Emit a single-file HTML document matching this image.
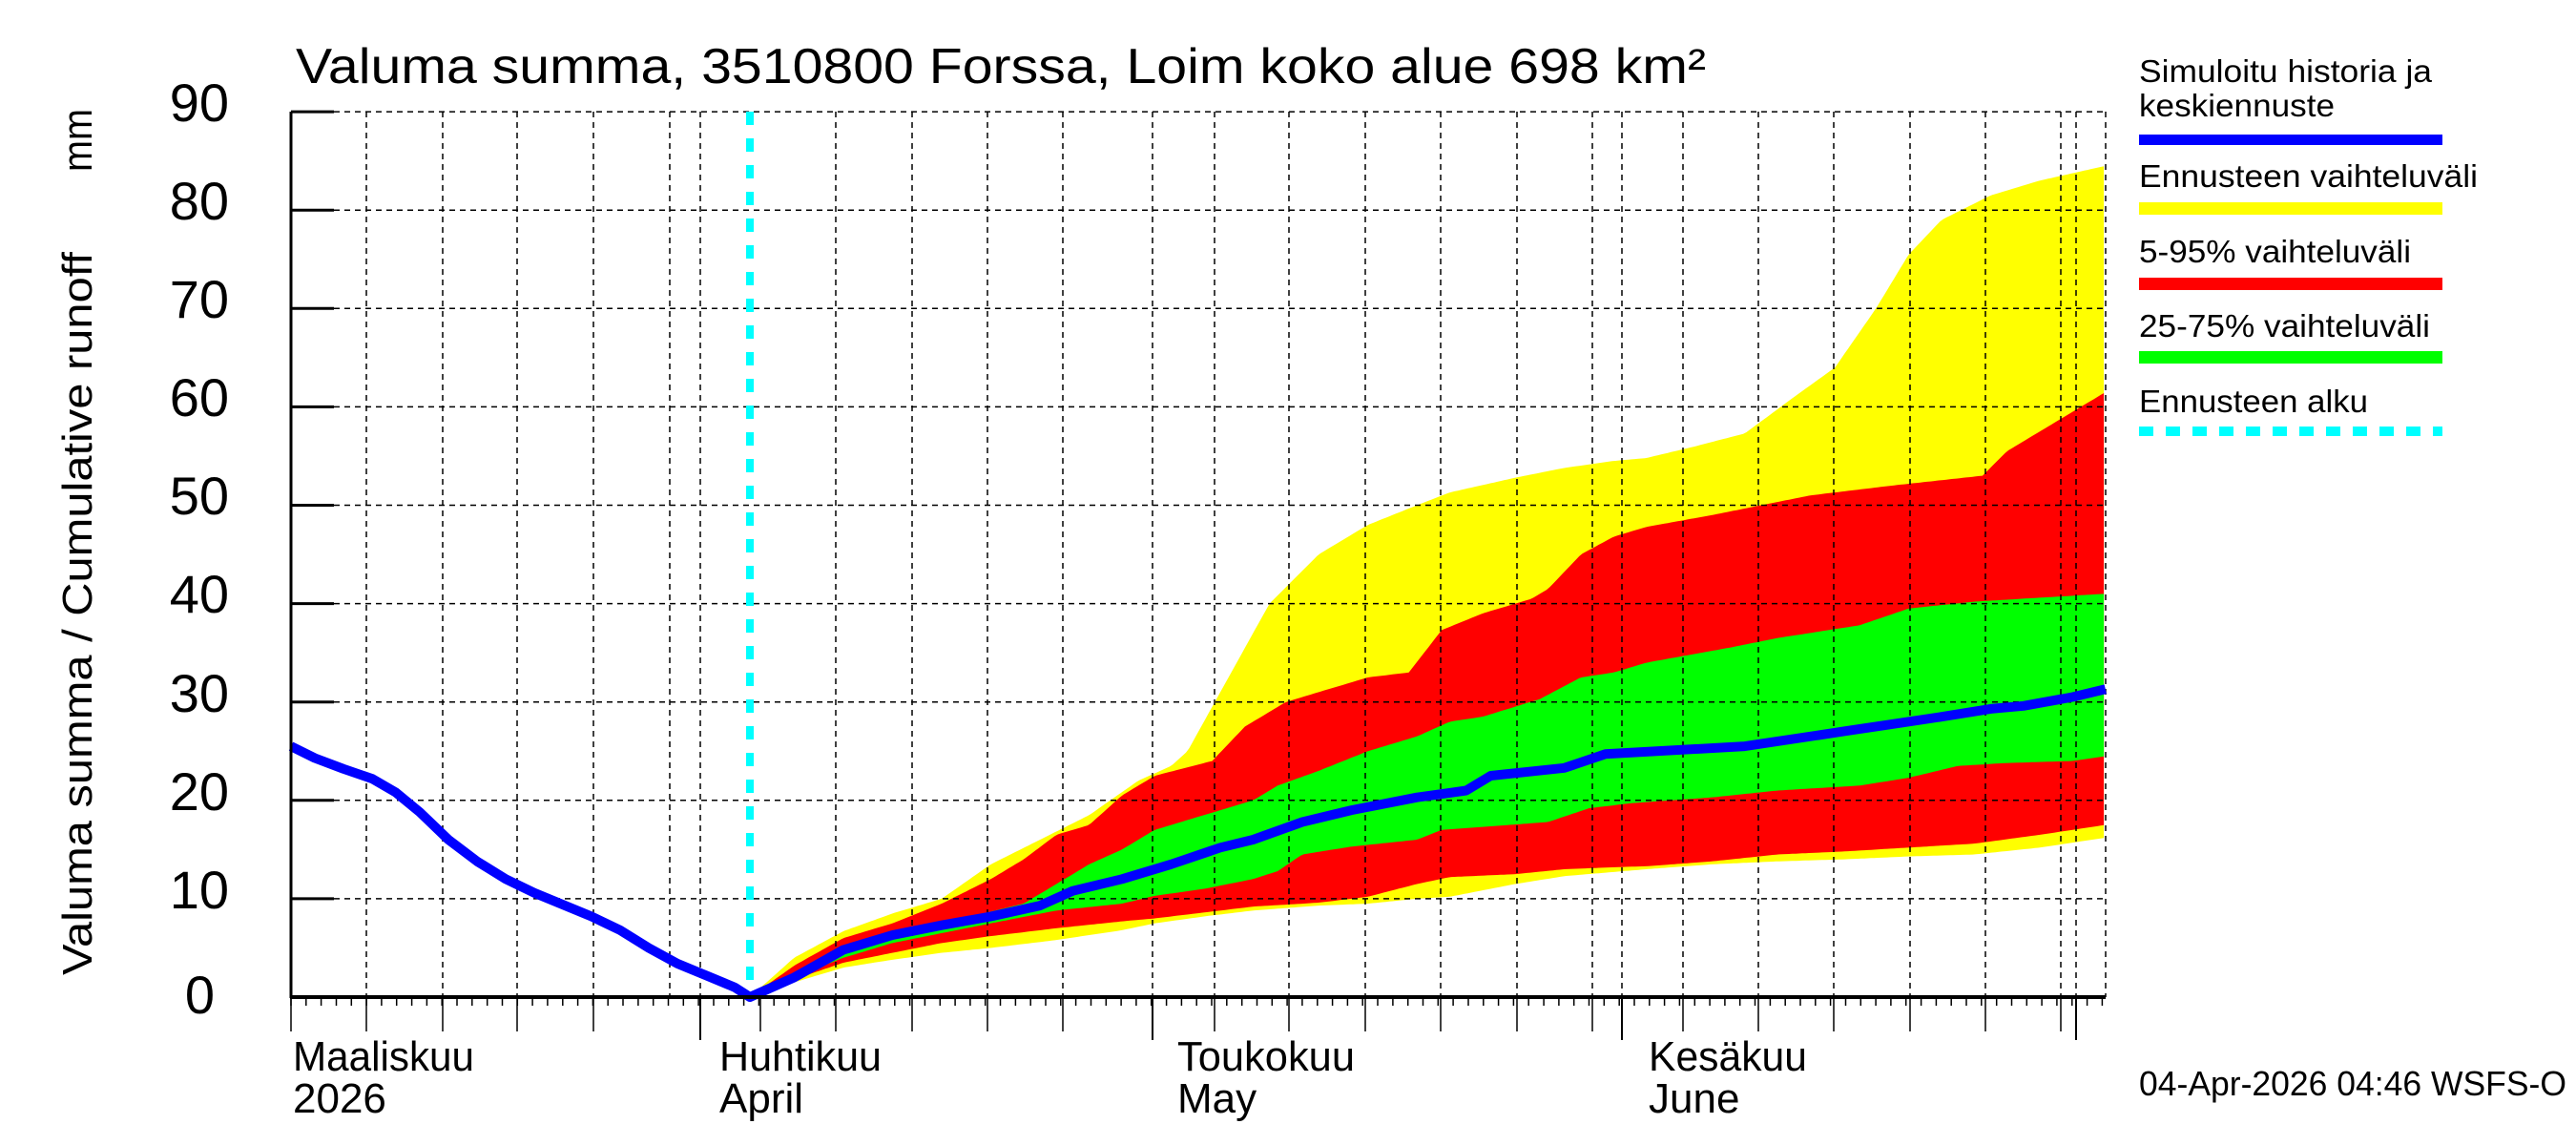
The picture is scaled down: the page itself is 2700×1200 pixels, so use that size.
<!DOCTYPE html>
<html><head><meta charset="utf-8"><style>
html,body{margin:0;padding:0;background:#fff;}
svg{display:block;}
text{font-family:"Liberation Sans",sans-serif;fill:#000;}
</style></head><body>
<svg id="s" width="2700" height="1200" xmlns="http://www.w3.org/2000/svg">
<g id="fills"></g>
<g id="grid" stroke="#000" stroke-width="1.5" stroke-dasharray="6,5" fill="none"></g>
<g id="lines"></g>
<g id="axes" stroke="#000" fill="none"></g>
<text x="310" y="87" font-size="52" textLength="1478" lengthAdjust="spacingAndGlyphs">Valuma summa, 3510800 Forssa, Loim koko alue 698 km²</text>
<text transform="translate(96,1022) rotate(-90)" font-size="44" textLength="758" lengthAdjust="spacingAndGlyphs">Valuma summa / Cumulative runoff</text>
<text transform="translate(96,180) rotate(-90)" font-size="44" textLength="66" lengthAdjust="spacingAndGlyphs">mm</text>
<g font-size="56" text-anchor="end">
<text x="240" y="127">90</text><text x="240" y="230">80</text><text x="240" y="333">70</text>
<text x="240" y="436">60</text><text x="240" y="539">50</text><text x="240" y="642">40</text>
<text x="240" y="746">30</text><text x="240" y="849">20</text><text x="240" y="952">10</text>
<text x="225" y="1062">0</text>
</g>
<g font-size="44">
<text x="307" y="1122" textLength="190" lengthAdjust="spacingAndGlyphs">Maaliskuu</text>
<text x="307" y="1166">2026</text>
<text x="754" y="1122" textLength="170" lengthAdjust="spacingAndGlyphs">Huhtikuu</text>
<text x="754" y="1166">April</text>
<text x="1234" y="1122" textLength="186" lengthAdjust="spacingAndGlyphs">Toukokuu</text>
<text x="1234" y="1166">May</text>
<text x="1728" y="1122" textLength="166" lengthAdjust="spacingAndGlyphs">Kesäkuu</text>
<text x="1728" y="1166">June</text>
</g>
<text x="2242" y="1148" font-size="36" textLength="448" lengthAdjust="spacingAndGlyphs">04-Apr-2026 04:46 WSFS-O</text>
<g font-size="33">
<text x="2242" y="86" textLength="307" lengthAdjust="spacingAndGlyphs">Simuloitu historia ja</text>
<text x="2242" y="122" textLength="205" lengthAdjust="spacingAndGlyphs">keskiennuste</text>
<text x="2242" y="196" textLength="355" lengthAdjust="spacingAndGlyphs">Ennusteen vaihteluväli</text>
<text x="2242" y="275" textLength="285" lengthAdjust="spacingAndGlyphs">5-95% vaihteluväli</text>
<text x="2242" y="353" textLength="305" lengthAdjust="spacingAndGlyphs">25-75% vaihteluväli</text>
<text x="2242" y="432" textLength="240" lengthAdjust="spacingAndGlyphs">Ennusteen alku</text>
</g>
<rect x="2242" y="141" width="318" height="11" fill="#0000ff"/>
<rect x="2242" y="212" width="318" height="13" fill="#ffff00"/>
<rect x="2242" y="291" width="318" height="13" fill="#ff0000"/>
<rect x="2242" y="368" width="318" height="13" fill="#00ff00"/>
<line x1="2242" y1="452" x2="2560" y2="452" stroke="#00ffff" stroke-width="10" stroke-dasharray="15,13"/>
</svg>
<script>
var NS="http://www.w3.org/2000/svg";
function X(xd){return 786+(xd-453)*1.718;}
function Y(v){return 1045-10.31*v;}
function interp(arr,x){for(var i=0;i<arr.length-1;i++){if(x<=arr[i+1][0]){var a=arr[i],b=arr[i+1];return a[1]+(b[1]-a[1])*(x-a[0])/(b[0]-a[0]);}}return arr[arr.length-1][1];}
function band(up,lo,col){var xs=[];for(var x=453;x<=1280;x+=2)xs.push(x);var d="";xs.forEach(function(x,i){d+=(i?"L":"M")+X(x).toFixed(1)+","+Y(interp(up,x)).toFixed(1);});
for(var i=xs.length-1;i>=0;i--)d+="L"+X(xs[i]).toFixed(1)+","+Y(interp(lo,xs[i])).toFixed(1);d+="Z";
var p=document.createElementNS(NS,"path");p.setAttribute("d",d);p.setAttribute("fill",col);document.getElementById("fills").appendChild(p);}
var yU=[[453,0],[480,4],[510,6.7],[540,8.5],[570,10],[600,13.5],[630,16],[660,18.5],[690,22],[710,23.5],[720,25],[740,31],[760,37],[770,40],[800,45],[830,48],[860,50],[880,51.3],[920,52.8],[950,53.8],[980,54.5],[1000,54.8],[1030,56],[1060,57.3],[1090,61],[1115,64],[1140,70],[1160,75.5],[1180,79],[1210,81.5],[1240,83],[1280,84.5]];
var rU=[[453,0],[480,3.2],[510,6],[540,7.5],[570,9.5],[600,12],[620,14],[640,16.5],[660,17.5],[680,20.5],[700,22.5],[735,24],[755,27.5],[780,30],[800,31],[830,32.5],[855,33],[875,37.3],[900,39],[930,40.5],[940,41.5],[960,45],[980,46.8],[1000,47.8],[1040,49],[1070,50],[1100,51],[1150,52],[1205,53],[1220,55.5],[1250,58.5],[1280,61.5]];
var gU=[[453,0],[480,2.5],[510,5],[540,6.8],[570,7.5],[600,8.7],[620,9.5],[640,11.5],[660,13.5],[680,15],[700,17],[720,18],[740,19],[760,20],[775,21.5],[800,23],[830,25],[860,26.5],[880,28],[900,28.5],[935,30.3],[960,32.5],[980,33],[1000,34],[1050,35.5],[1080,36.5],[1130,37.8],[1160,39.5],[1200,40.2],[1280,41]];
var gL=[[453,0],[480,2],[510,4],[540,5.5],[570,6.5],[600,7.5],[640,8.8],[680,9.5],[700,10.3],[730,11],[760,12],[775,12.8],[790,14.5],[820,15.3],[860,16],[875,17],[900,17.3],[940,17.8],[965,19.2],[990,19.7],[1040,20.3],[1080,21],[1130,21.5],[1160,22.3],[1190,23.5],[1220,23.8],[1260,24],[1280,24.5]];
var rL=[[453,0],[480,1.8],[510,3.5],[540,4.5],[570,5.5],[600,6.2],[640,7],[680,7.7],[700,8],[730,8.6],[760,9.2],[800,9.6],[830,10.2],[860,11.5],[880,12.2],[920,12.5],[950,13],[980,13.2],[1000,13.3],[1040,13.8],[1080,14.5],[1120,14.8],[1160,15.2],[1200,15.6],[1240,16.5],[1280,17.5]];
var yL=[[453,0],[480,1.5],[510,3],[540,3.8],[570,4.5],[600,5],[640,5.8],[680,6.8],[700,7.5],[730,8.2],[760,8.8],[800,9.3],[830,9.5],[860,10],[880,10.2],[920,11.5],[950,12.3],[1000,13],[1040,13.5],[1080,13.8],[1120,14],[1160,14.3],[1200,14.5],[1240,15.2],[1280,16.2]];
band(yU,yL,"#ffff00");band(rU,rL,"#ff0000");band(gU,gL,"#00ff00");
var g=document.getElementById("grid"),gs="";
for(var v=10;v<=90;v+=10){gs+='<line x1="350" y1="'+Y(v)+'" x2="2207" y2="'+Y(v)+'"/>';}
[384,464,542,622,702,734,876,956,1035,1114,1208,1273,1351,1431,1510,1590,1669,1700,1764,1843,1922,2002,2081,2160,2176,2207].forEach(function(x){gs+='<line x1="'+x+'" y1="117" x2="'+x+'" y2="1045"/>';});
g.innerHTML=gs;
var hist=[[305,25.5],[330,24.3],[360,23.2],[390,22.2],[415,20.8],[440,18.8],[470,16],[500,13.8],[530,12],[560,10.6],[590,9.4],[620,8.2],[650,6.8],[680,5],[710,3.4],[740,2.2],[770,1],[786,0]];
var med=[[453,0],[480,2],[510,4.8],[540,6.3],[570,7.3],[600,8.2],[630,9.3],[650,10.8],[680,12],[710,13.5],[740,15.2],[760,16],[790,17.8],[820,19],[860,20.3],[890,21],[905,22.5],[950,23.3],[975,24.7],[1060,25.5],[1120,27],[1180,28.5],[1210,29.3],[1230,29.6],[1260,30.5],[1280,31.3]];
var d="";hist.forEach(function(p,i){d+=(i?"L":"M")+p[0]+","+Y(p[1]).toFixed(1);});
med.forEach(function(p){d+="L"+X(p[0]).toFixed(1)+","+Y(p[1]).toFixed(1);});
var L=document.getElementById("lines");
L.innerHTML='<line x1="786" y1="117" x2="786" y2="1045" stroke="#00ffff" stroke-width="8" stroke-dasharray="14,14"/>'+
'<path d="'+d+'" fill="none" stroke="#0000ff" stroke-width="10" stroke-linejoin="round"/>';
var a='<line x1="305" y1="117" x2="305" y2="1046" stroke-width="3"/><line x1="304" y1="1045" x2="2207" y2="1045" stroke-width="4"/>';
for(var v=0;v<=90;v+=10){a+='<line x1="305" y1="'+Y(v)+'" x2="350" y2="'+Y(v)+'" stroke-width="3"/>';}
for(var x=305;x<=2207;x+=15.82){a+='<line x1="'+x.toFixed(1)+'" y1="1045" x2="'+x.toFixed(1)+'" y2="1054" stroke-width="1.5"/>';}
[305,384,464,542,622,797,876,956,1035,1114,1273,1351,1431,1510,1590,1669,1764,1843,1922,2002,2081,2160].forEach(function(x){a+='<line x1="'+x+'" y1="1045" x2="'+x+'" y2="1081" stroke-width="1.5"/>';});
[734,1208,1700,2176].forEach(function(x){a+='<line x1="'+x+'" y1="1045" x2="'+x+'" y2="1090" stroke-width="2"/>';});
document.getElementById("axes").innerHTML=a;
</script>
</body></html>
